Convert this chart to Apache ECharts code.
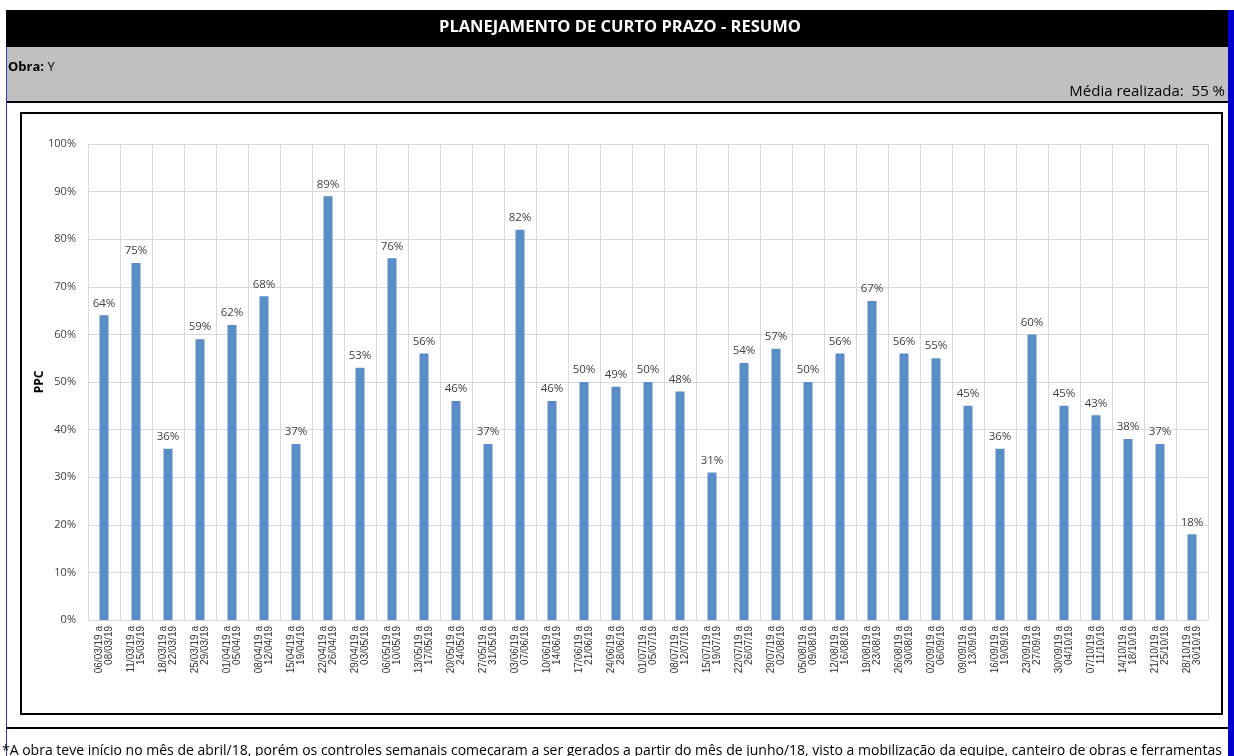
<!DOCTYPE html>
<html><head><meta charset="utf-8">
<script src="https://cdn.jsdelivr.net/npm/echarts@6/dist/echarts.min.js"></script>
<style>html,body{margin:0;padding:0;background:#fff}#c{width:1234px;height:756px}</style>
</head><body><div id="c"></div>
<script>
const categories = ["06/03/19 a\n08/03/19","11/03/19 a\n15/03/19","18/03/19 a\n22/03/19","25/03/19 a\n29/03/19","01/04/19 a\n05/04/19","08/04/19 a\n12/04/19","15/04/19 a\n19/04/19","22/04/19 a\n26/04/19","29/04/19 a\n03/05/19","06/05/19 a\n10/05/19","13/05/19 a\n17/05/19","20/05/19 a\n24/05/19","27/05/19 a\n31/05/19","03/06/19 a\n07/06/19","10/06/19 a\n14/06/19","17/06/19 a\n21/06/19","24/06/19 a\n28/06/19","01/07/19 a\n05/07/19","08/07/19 a\n12/07/19","15/07/19 a\n19/07/19","22/07/19 a\n26/07/19","29/07/19 a\n02/08/19","05/08/19 a\n09/08/19","12/08/19 a\n16/08/19","19/08/19 a\n23/08/19","26/08/19 a\n30/08/19","02/09/19 a\n06/09/19","09/09/19 a\n13/09/19","16/09/19 a\n19/09/19","23/09/19 a\n27/09/19","30/09/19 a\n04/10/19","07/10/19 a\n11/10/19","14/10/19 a\n18/10/19","21/10/19 a\n25/10/19","28/10/19 a\n30/10/19"];
const ppc = [64,75,36,59,62,68,37,89,53,76,56,46,37,82,46,50,49,50,48,31,54,57,50,56,67,56,55,45,36,60,45,43,38,37,18];
const yTicks = [0,10,20,30,40,50,60,70,80,90,100];
const titleText = "PLANEJAMENTO DE CURTO PRAZO - RESUMO";
const obraText = "Obra:";
const obraValue = " Y";
const mediaText = "Média realizada:  55 %";
const footText = "*A obra teve início no mês de abril/18, porém os controles semanais começaram a ser gerados a partir do mês de junho/18, visto a mobilização da equipe, canteiro de obras e ferramentas";

const chart = echarts.init(document.getElementById('c'), null, {renderer:'canvas'});
const F = "'Open Sans', 'Noto Sans', sans-serif";
chart.setOption({
  animation:false,
  backgroundColor:'#fff',
  graphic:[
    {type:'rect', z:-10, shape:{x:6,y:10,width:1222,height:37}, style:{fill:'#000'}},
    {type:'text', x:620, y:27, style:{text:titleText, fill:'#fff', font:"bold 16.5px "+F, align:'center', verticalAlign:'middle'}},
    {type:'rect', z:-10, shape:{x:6,y:47,width:1222,height:54}, style:{fill:'#c0c0c0'}},
    {type:'text', x:8, y:67, style:{rich:{b:{font:"bold 13px "+F, fill:'#000'}, n:{font:"13px "+F, fill:'#000'}}, text:"{b|"+obraText+"}{n|"+obraValue+"}", verticalAlign:'middle'}},
    {type:'text', x:1225, y:92, style:{text:mediaText, fill:'#000', font:"15px "+F, align:'right', verticalAlign:'middle'}},
    {type:'rect', z:-9, shape:{x:6,y:101,width:1222,height:2}, style:{fill:'#000'}},
    {type:'rect', z:-9, shape:{x:6,y:47,width:1,height:709}, style:{fill:'#3333aa'}},
    {type:'rect', z:-9, shape:{x:1228,y:10,width:6,height:746}, style:{fill:'#0000cc'}},
    {type:'rect', z:-8, shape:{x:21,y:113,width:1201,height:601}, style:{fill:'#fff', stroke:'#000', lineWidth:2}},
    {type:'rect', z:-9, shape:{x:6,y:727,width:1222,height:2}, style:{fill:'#000'}},
    {type:'text', x:2, y:751, style:{text:footText, fill:'#000', font:"14px "+F, verticalAlign:'middle'}},
    {type:'text', x:40, y:382, rotation:Math.PI/2, style:{text:'PPC', fill:'#000', font:"bold 12px "+F, align:'center', verticalAlign:'middle'}}
  ],
  grid:{left:88, right:26, top:144, bottom:136},
  xAxis:{
    type:'category', data:categories,
    axisLine:{show:true, lineStyle:{color:'#d9d9d9'}},
    axisTick:{show:false},
    splitLine:{show:true, lineStyle:{color:'#d9d9d9'}},
    axisLabel:{interval:0, rotate:90, fontSize:10, lineHeight:10, color:'#333', fontFamily:"Liberation Sans, sans-serif", margin:6}
  },
  yAxis:{
    type:'value', min:0, max:100, interval:10,
    axisLabel:{formatter:v=>yTicks.includes(v)?v+'%':'', fontSize:11, color:'#404040', fontFamily:F, margin:12},
    splitLine:{lineStyle:{color:'#d9d9d9'}},
    axisLine:{show:false}, axisTick:{show:false}
  },
  series:[{
    type:'bar', data:ppc, barWidth:9,
    itemStyle:{color:'#5b8bc8'},
    label:{show:true, position:'top', formatter:p=>p.value+'%', fontSize:11.5, color:'#404040', fontFamily:F, distance:6}
  }]
});
</script></body></html>
